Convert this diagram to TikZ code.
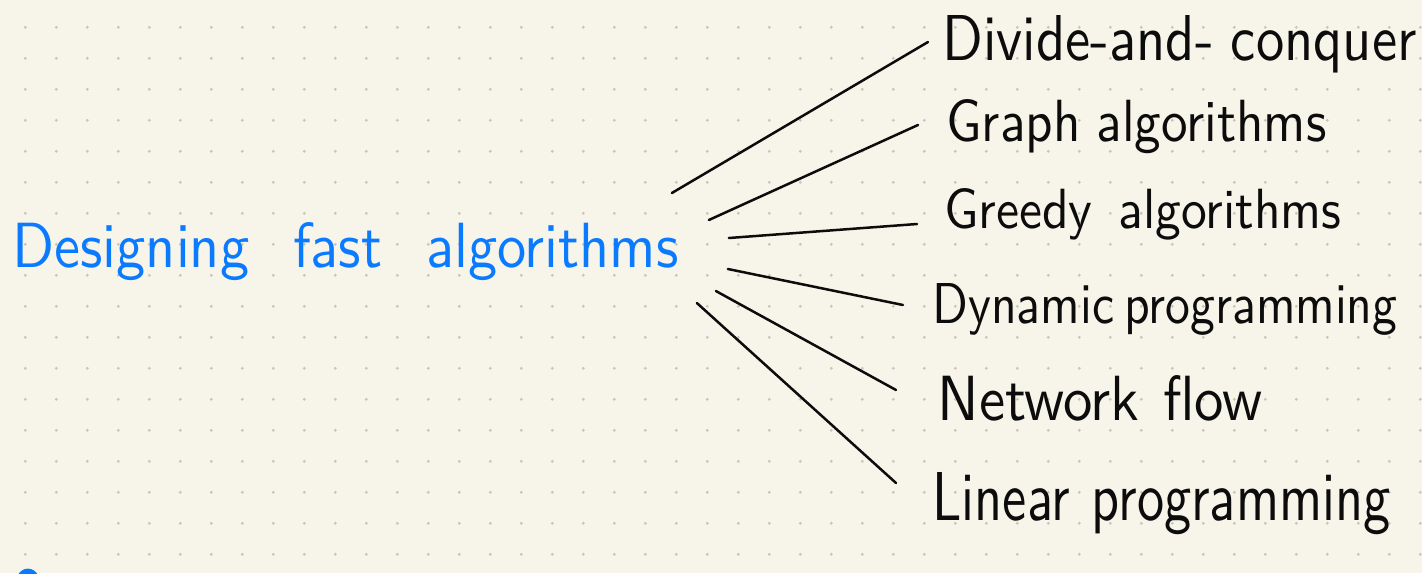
\documentclass[tikz,border=0pt]{standalone}
\usetikzlibrary{calc}
\definecolor{paper}{RGB}{247,245,234}
\definecolor{dotgrey}{RGB}{200,197,189}
\definecolor{inkblue}{RGB}{10,122,255}
\definecolor{ink}{RGB}{12,12,12}
\newlength\pxu
\setlength\pxu{0.5pt}
% a word group stretched to a given width and height (in px units)
\newcommand\inkword[3]{\resizebox{#1\pxu}{#2\pxu}{#3}}
\begin{document}
\begin{tikzpicture}[x=0.5pt, y=-0.5pt, font=\sffamily,
  leaf/.style={anchor=base west, inner sep=0pt, text=ink},
  root/.style={anchor=base west, inner sep=0pt, text=inkblue},
  stroke/.style={draw=ink, line width=1.25pt, line cap=round}]
  % dotted paper
  \useasboundingbox (0,0) rectangle (1422,573);
  \clip (0,0) rectangle (1422,573);
  \fill[paper] (0,0) rectangle (1422,573);
  \foreach \i in {0,...,45}
    \foreach \j in {0,...,17}
      \fill[dotgrey] (25.3+31*\i, 27.3+31*\j) circle[radius=0.8pt];

  % central topic
  \node[root] (main) at (12,267) {\inkword{666}{45}{Designing\hspace{0.75em}fast\hspace{0.75em}algorithms}};

  % branches
  \node[leaf] (dc) at (942,60)  {\inkword{474}{45}{Divide-and-\hspace{0.3em}conquer}};
  \node[leaf] (ga) at (946,141) {\inkword{380}{42}{Graph\hspace{0.3em}algorithms}};
  \node[leaf] (gr) at (944,228) {\inkword{397}{40}{Greedy\hspace{0.5em}algorithms}};
  \node[leaf] (dp) at (932,323) {\inkword{465}{40}{Dynamic\hspace{0.2em}programming}};
  \node[leaf] (nf) at (937,420) {\inkword{325}{45}{Network\hspace{0.4em}flow}};
  \node[leaf] (lp) at (932,520) {\inkword{458}{48}{Linear\hspace{0.4em}programming}};

  % connectors fanning out from the topic
  \draw[stroke] ($(main.base east)+(-7,-74)$) -- ($(dc.base west)+(-14,-18)$);
  \draw[stroke] ($(main.base east)+(30,-47)$) -- ($(ga.base west)+(-28,-16)$);
  \draw[stroke] ($(main.base east)+(50,-29)$) -- ($(gr.base west)+(-27,-4)$);
  \draw[stroke] ($(main.base east)+(49,2)$)   -- ($(dp.base west)+(-29,-18)$);
  \draw[stroke] ($(main.base east)+(37,24)$)  -- ($(nf.base west)+(-41,-30)$);
  \draw[stroke] ($(main.base east)+(18,36)$)  -- ($(lp.base west)+(-36,-37)$);

  % start of a stroke at the lower edge
  \fill[inkblue] (18,575) .. controls (22,567) and (33,566) .. (38,575) -- cycle;
\end{tikzpicture}
\end{document}
